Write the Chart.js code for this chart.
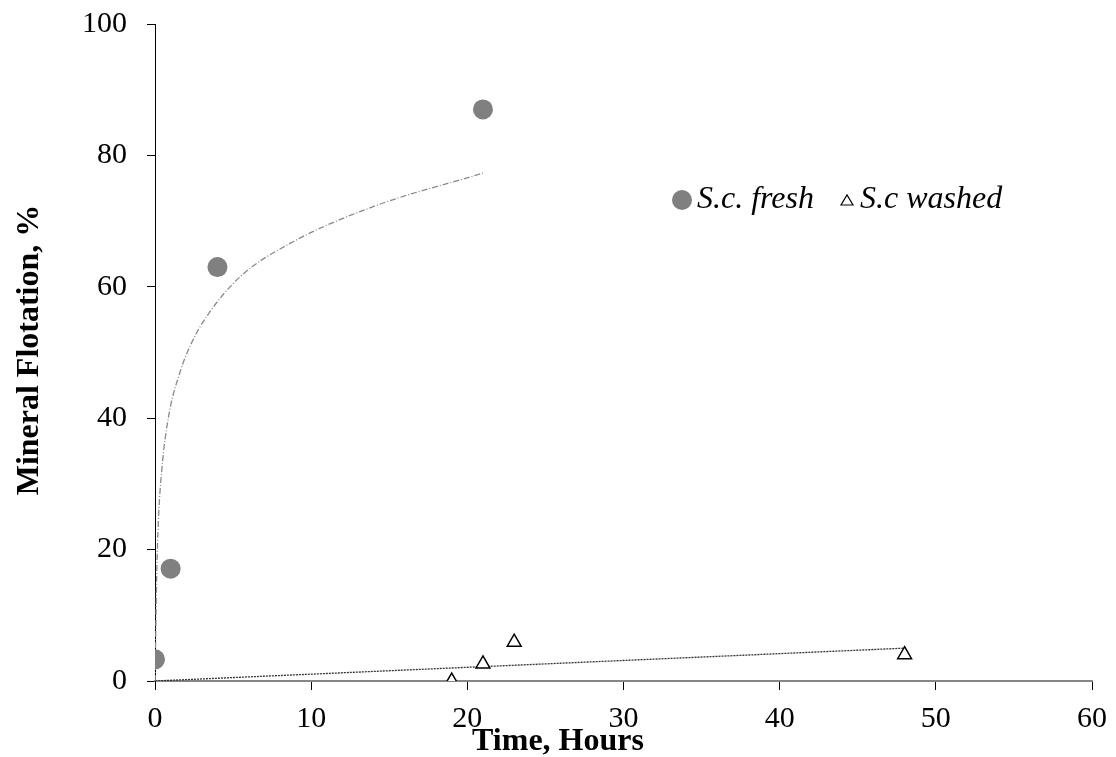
<!DOCTYPE html>
<html>
<head>
<meta charset="utf-8">
<title>Mineral Flotation</title>
<script src="https://cdn.jsdelivr.net/npm/chart.js@4.4.0/dist/chart.umd.min.js"></script>
<style>
  html, body { margin: 0; padding: 0; background: #fff; }
  #wrap { width: 1116px; height: 757px; }
</style>
</head>
<body>
<div id="wrap"><canvas id="flot" width="1116" height="757"></canvas></div>
<script>
// data
const freshHours = [0, 1, 4, 21];
const freshFlot = [3.3, 17.1, 63, 87];

const washedHours = [19, 21, 23, 48];
const washedFlot = [0, 2.6, 5.9, 4];

// trend lines (as drawn in the original)
const freshTrendHours = [0.01, 0.04, 0.11, 0.21, 0.43, 0.85, 1.6, 2.35, 3.31, 5.44, 8.64, 13.97, 21];
const freshTrendFlot = [0, 6, 16, 24, 32, 40, 47, 51.5, 55.5, 61.5, 66.6, 72.2, 77.3];
const washedTrendHours = [0, 48];
const washedTrendFlot = [0, 5.0];

const xTicks = [0, 10, 20, 30, 40, 50, 60];
const yTicks = [0, 20, 40, 60, 80, 100];

const serif = "'Liberation Serif', 'Times New Roman', serif";

const pts = (xs, ys) => xs.map((x, i) => ({x: x, y: ys[i]}));

// axis titles + legend, placed like the excel chart
const extras = {
  id: 'extras',
  afterDraw(chart) {
    const c = chart.ctx;
    c.save();
    c.fillStyle = '#000';
    c.font = 'bold 32px ' + serif;
    c.textAlign = 'center';
    c.textBaseline = 'alphabetic';
    c.fillText('Time, Hours', 558, 750);

    c.translate(38, 350);
    c.rotate(-Math.PI / 2);
    c.fillText('Mineral Flotation, %', 0, 0);
    c.restore();

    // legend
    c.save();
    c.fillStyle = '#808080';
    c.beginPath();
    c.arc(682, 200, 10, 0, Math.PI * 2);
    c.fill();
    c.fillStyle = '#000';
    c.font = 'italic 32px ' + serif;
    c.textAlign = 'left';
    c.textBaseline = 'middle';
    c.fillText('S.c. fresh', 697, 200);

    c.strokeStyle = '#000';
    c.lineWidth = 1.2;
    c.beginPath();
    c.moveTo(841, 205);
    c.lineTo(853, 205);
    c.lineTo(847, 195);
    c.closePath();
    c.stroke();
    c.fillText('S.c washed', 860, 200);
    c.restore();
  }
};

new Chart(document.getElementById('flot'), {
  type: 'scatter',
  data: {
    datasets: [
      {
        label: 'S.c. fresh',
        data: pts(freshHours, freshFlot),
        pointStyle: 'circle',
        pointRadius: 10,
        pointBackgroundColor: '#808080',
        pointBorderWidth: 0,
        showLine: false,
        order: 0
      },
      {
        label: 'S.c washed',
        data: pts(washedHours, washedFlot),
        pointStyle: 'triangle',
        pointRadius: 8,
        pointBackgroundColor: '#fff',
        pointBorderColor: '#000',
        pointBorderWidth: 1.5,
        showLine: false,
        order: 0
      },
      {
        label: 'fresh trend',
        data: pts(freshTrendHours, freshTrendFlot),
        showLine: true,
        borderColor: '#8a8a8a',
        borderWidth: 1.3,
        borderDash: [6, 2, 1, 2],
        cubicInterpolationMode: 'monotone',
        pointRadius: 0,
        order: 1
      },
      {
        label: 'washed trend',
        data: pts(washedTrendHours, washedTrendFlot),
        showLine: true,
        borderColor: '#333',
        borderWidth: 1.3,
        borderDash: [2, 1],
        pointRadius: 0,
        order: 1
      }
    ]
  },
  options: {
    responsive: false,
    animation: false,
    devicePixelRatio: 1,
    layout: { padding: { left: 0, right: 24, top: 24, bottom: 0 } },
    plugins: {
      legend: { display: false },
      tooltip: { enabled: false }
    },
    scales: {
      x: {
        type: 'linear',
        min: 0,
        max: 60,
        afterBuildTicks: s => { s.ticks = xTicks.map(v => ({value: v})); },
        afterFit: s => { s.height = 76; s.paddingLeft = 0; s.paddingRight = 0; },
        border: { color: '#868686', width: 2 },
        grid: { drawOnChartArea: false, drawTicks: true, tickLength: 9, color: '#000', lineWidth: 1 },
        ticks: { color: '#000', padding: 11, maxRotation: 0, font: { family: serif, size: 30 } }
      },
      y: {
        type: 'linear',
        min: 0,
        max: 100,
        afterBuildTicks: s => { s.ticks = yTicks.map(v => ({value: v})); },
        afterFit: s => { s.width = 155; s.paddingTop = 0; s.paddingBottom = 0; },
        border: { color: '#000', width: 1 },
        grid: { drawOnChartArea: false, drawTicks: true, tickLength: 8, color: '#000', lineWidth: 1 },
        ticks: { color: '#000', padding: 20, font: { family: serif, size: 30 } }
      }
    }
  },
  plugins: [extras]
});
</script>
</body>
</html>
